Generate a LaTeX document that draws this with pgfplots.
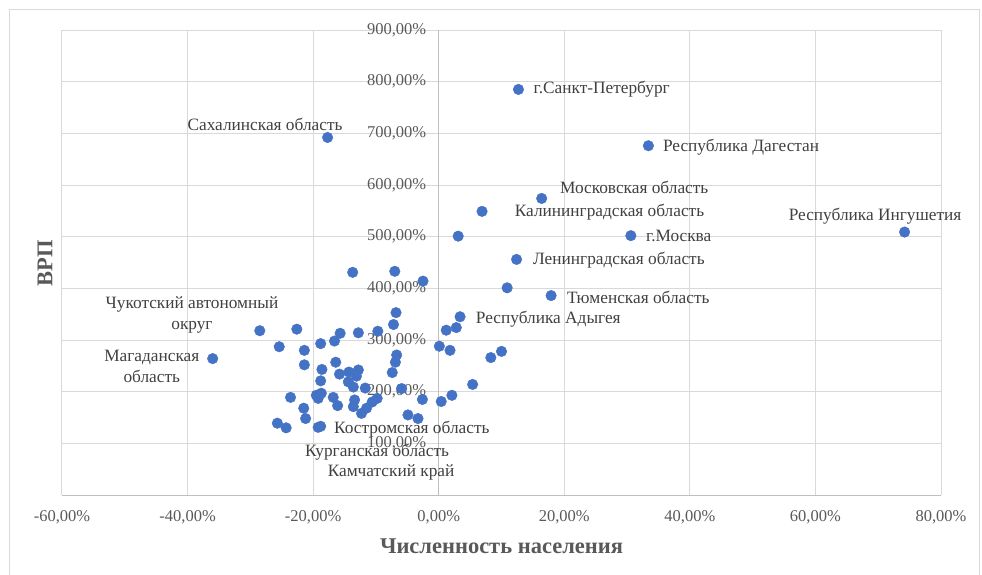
\documentclass[border=0pt]{standalone}
\usepackage{fontspec}
\setmainfont{Liberation Serif}
\usepackage{pgfplots}
\pgfplotsset{compat=1.18}

\definecolor{ptblue}{HTML}{4472C4}
\definecolor{gridgray}{HTML}{D9D9D9}
\definecolor{axgray}{HTML}{BFBFBF}
\definecolor{tickgray}{HTML}{595959}
\definecolor{lblgray}{HTML}{404040}

\begin{document}
\begin{tikzpicture}
\useasboundingbox (0,0) rectangle (982pt,-574pt);
\draw[gridgray, line width=1pt] (9pt,-9pt) rectangle (979pt,-600pt);
\begin{axis}[
    at={(62pt,-495pt)}, anchor=south west,
    scale only axis, width=879pt, height=465pt,
    xmin=-60, xmax=80, ymin=0, ymax=900,
    axis x line=bottom, axis y line=middle,
    axis line style={-, draw=axgray, line width=1pt},
    xtick={-60,-40,-20,0,20,40,60,80},
    xticklabels={{-60,00\%},{-40,00\%},{-20,00\%},{0,00\%},{20,00\%},{40,00\%},{60,00\%},{80,00\%}},
    ytick={0,100,200,300,400,500,600,700,800,900},
    yticklabels={{0,00\%},{100,00\%},{200,00\%},{300,00\%},{400,00\%},{500,00\%},{600,00\%},{700,00\%},{800,00\%},{900,00\%}},
    major tick length=0pt,
    grid=major,
    grid style={draw=gridgray, line width=1pt},
    tick label style={font=\fontsize{16.5}{19}\selectfont, text=tickgray},
    xticklabel style={anchor=north, yshift=-12pt},
    yticklabel style={anchor=east, xshift=-9pt},
    every axis x label/.style={at={(axis description cs:0.5,0)}, anchor=center, yshift=-51pt},
    every axis y label/.style={at={(axis description cs:-0.0193,0.499)}, rotate=90, anchor=center},
    xlabel={Численность населения},
    ylabel={ВРП},
    label style={font=\bfseries\fontsize{22.5}{26}\selectfont, text=tickgray},
    clip=false,
]
\addplot[only marks, mark=*, mark size=5.3pt, color=ptblue, fill=ptblue] coordinates {
    (12.7,785) (-17.7,692) (33.4,676) (16.4,574) (6.9,549) (74.2,509)
    (30.6,502) (3.1,501) (12.4,456) (-13.7,431) (-7.0,433) (-2.5,414)
    (10.9,401) (17.9,386) (3.4,345) (2.8,324) (1.2,319) (0.1,288)
    (1.8,280) (8.3,266) (10.0,278) (5.4,214) (2.1,193) (0.4,181)
    (-2.6,185) (-5.9,206) (-4.9,155) (-3.3,148)
    (-36.0,264) (-28.5,318) (-22.6,321) (-25.4,287) (-21.4,280) (-21.4,252)
    (-18.8,293) (-16.6,298) (-15.7,313) (-12.8,314) (-9.7,317) (-6.8,353)
    (-7.2,330) (-6.7,271) (-6.9,257) (-7.4,237) (-16.4,257) (-18.6,243)
    (-18.8,221) (-15.8,234) (-14.3,238) (-12.8,242) (-13.1,230) (-14.4,219)
    (-13.6,209) (-11.7,207) (-23.6,189) (-19.5,193) (-18.7,197) (-19.2,187)
    (-16.8,189) (-16.1,173) (-13.4,184) (-13.6,171) (-12.3,158) (-11.5,168)
    (-10.6,180) (-9.8,187) (-21.5,168) (-21.2,148) (-25.7,139) (-24.3,130)
    (-19.2,131) (-18.8,133)
};
% data labels
\begin{scope}[every node/.style={inner sep=0pt, text=lblgray, font=\fontsize{17.3}{21}\selectfont}]
\node[anchor=west] at (axis cs:15.1,785) {г.Санкт-Петербург};
\node[anchor=east] at (axis cs:-15.3,717.6) {Сахалинская область};
\node[anchor=west] at (axis cs:35.7,673) {Республика Дагестан};
\node[anchor=west] at (axis cs:19.3,596) {Московская область};
\node[anchor=west] at (axis cs:12.1,547) {Калининградская область};
\node[anchor=center] at (axis cs:69.5,540) {Республика Ингушетия};
\node[anchor=west] at (axis cs:33.0,501) {г.Москва};
\node[anchor=west] at (axis cs:15.0,455) {Ленинградская область};
\node[anchor=west] at (axis cs:20.4,383) {Тюменская область};
\node[anchor=west] at (axis cs:5.9,340) {Республика Адыгея};
\node[anchor=center, align=center] at (axis cs:-39.3,348) {Чукотский автономный\\округ};
\node[anchor=center, align=center] at (axis cs:-45.7,249) {Магаданская\\область};
\node[anchor=west] at (axis cs:-16.7,128) {Костромская область};
\node[anchor=west] at (axis cs:-21.3,83) {Курганская область};
\node[anchor=west] at (axis cs:-17.7,44) {Камчатский край};
\end{scope}
\end{axis}
\end{tikzpicture}
\end{document}
